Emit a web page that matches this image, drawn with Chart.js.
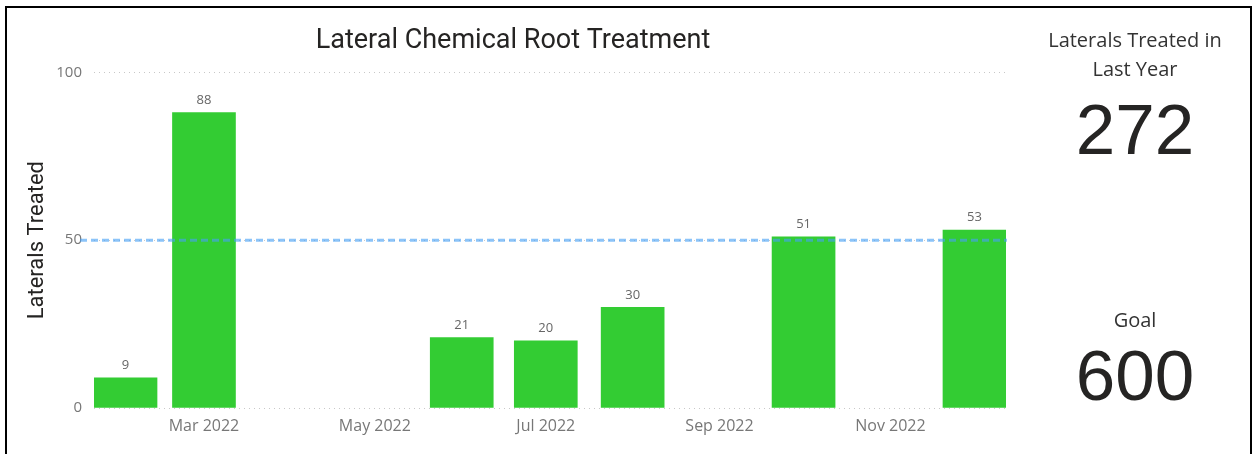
<!DOCTYPE html>
<html>
<head>
<meta charset="UTF-8">
<title>Lateral Chemical Root Treatment</title>
<script src="https://cdn.jsdelivr.net/npm/chart.js@4.4.0/dist/chart.umd.min.js"></script>
<style>
    body { margin: 0; background: #fff; width: 1255px; height: 454px; overflow: hidden; position: relative; font-family: "Open Sans", sans-serif; }
    #frame { position: absolute; left: 5px; top: 6px; width: 1243px; height: 520px; border: 2px solid #000; }
    #chart-holder { position: absolute; left: 0; top: 0; width: 1038px; height: 454px; }
    .card { position: absolute; left: 1030px; width: 210px; text-align: center; color: #252423; }
    .card .lbl { font-size: 20px; line-height: 29px; color: #333; }
    .card .num { font-family: "Liberation Sans", Arial, sans-serif; font-size: 71px; line-height: 71px; color: #252423; }
</style>
</head>
<body>
    <div id="frame"></div>
    <div id="chart-holder">
        <canvas id="chart-area"></canvas>
    </div>
    <div class="card" style="top:25px;">
        <div class="lbl">Laterals Treated in<br/>Last Year</div>
        <div class="num" id="lastYear" style="margin-top:11px;"></div>
    </div>
    <div class="card" style="top:305px;">
        <div class="lbl">Goal</div>
        <div class="num" id="goalNum" style="margin-top:6px;"></div>
    </div>
<script>
    // data
    var months = ['2022-02', '2022-03', '2022-06', '2022-07', '2022-08', '2022-10', '2022-12'];
    var treated = [9, 88, 21, 20, 30, 51, 53];
    var tickMonths = ['2022-03', '2022-05', '2022-07', '2022-09', '2022-11'];
    var tickLabels = ['Mar 2022', 'May 2022', 'Jul 2022', 'Sep 2022', 'Nov 2022'];
    var yTicks = [0, 50, 100];
    var goalLine = 50;
    var lastYearTotal = 272;
    var goalTotal = 600;

    // days since 1 Jan 2022, so the axis keeps the real month lengths
    function dayNo(m) {
        return (Date.parse(m + '-01T00:00:00Z') - Date.UTC(2022, 0, 1)) / 86400000;
    }
    var xDays = months.map(dayNo);
    var tickDays = tickMonths.map(dayNo);

    document.getElementById('lastYear').textContent = lastYearTotal;
    document.getElementById('goalNum').textContent = goalTotal;

    var extras = {
        id: 'extras',
        afterDatasetsDraw: function (chart) {
            var ctx = chart.ctx, area = chart.chartArea;
            var gy = chart.scales.y.getPixelForValue(goalLine);
            ctx.save();
            ctx.strokeStyle = 'rgba(70,160,245,0.62)';
            ctx.lineWidth = 3;
            ctx.setLineDash([7, 4]);
            ctx.beginPath();
            ctx.moveTo(area.left - 14, gy);
            ctx.lineTo(area.right + 1, gy);
            ctx.stroke();
            ctx.restore();

            ctx.save();
            ctx.font = '13px "Open Sans", sans-serif';
            ctx.fillStyle = '#666';
            ctx.textAlign = 'center';
            ctx.textBaseline = 'bottom';
            chart.getDatasetMeta(0).data.forEach(function (bar, i) {
                ctx.fillText(treated[i], bar.x, bar.y - 6);
            });
            ctx.restore();
        }
    };

    var ctx = document.getElementById('chart-area').getContext('2d');
    new Chart(ctx, {
        type: 'bar',
        data: {
            datasets: [{
                data: xDays.map(function (d, i) { return { x: d, y: treated[i] }; }),
                backgroundColor: '#33CC33',
                barThickness: 63
            }]
        },
        options: {
            responsive: true,
            maintainAspectRatio: false,
            animation: false,
            layout: { padding: { left: 20, right: 32, top: 0, bottom: 0 } },
            plugins: {
                legend: { display: false },
                tooltip: { enabled: false },
                title: {
                    display: true,
                    text: 'Lateral Chemical Root Treatment',
                    color: '#252423',
                    font: { family: 'Roboto', size: 27, weight: 'normal' },
                    padding: { top: 25, bottom: 15 }
                }
            },
            scales: {
                x: {
                    type: 'linear',
                    offset: false,
                    min: xDays[0] - 11.25,
                    max: xDays[xDays.length - 1] + 11.25,
                    grid: { display: false, drawTicks: false },
                    border: { display: false },
                    afterBuildTicks: function (scale) {
                        scale.ticks = tickDays.map(function (v) { return { value: v }; });
                    },
                    afterFit: function (scale) { scale.height = 46; },
                    ticks: {
                        autoSkip: false,
                        maxRotation: 0,
                        padding: 9,
                        color: '#777',
                        font: { family: '"Open Sans", sans-serif', size: 16 },
                        callback: function (v, i) { return tickLabels[i]; }
                    }
                },
                y: {
                    min: 0,
                    max: 100,
                    afterBuildTicks: function (scale) {
                        scale.ticks = yTicks.map(function (v) { return { value: v }; });
                    },
                    afterFit: function (scale) { scale.width = 74; },
                    grid: { color: '#c8c8c8', lineWidth: 1, drawTicks: false },
                    border: { display: false, dash: [1, 4] },
                    ticks: {
                        padding: 12,
                        color: '#777',
                        font: { family: '"Open Sans", sans-serif', size: 15 }
                    },
                    title: {
                        display: true,
                        text: 'Laterals Treated',
                        color: '#252423',
                        font: { family: 'Roboto', size: 22, weight: 'normal' },
                        padding: { top: 4, bottom: 0 }
                    }
                }
            }
        },
        plugins: [extras]
    });
</script>
</body>
</html>
